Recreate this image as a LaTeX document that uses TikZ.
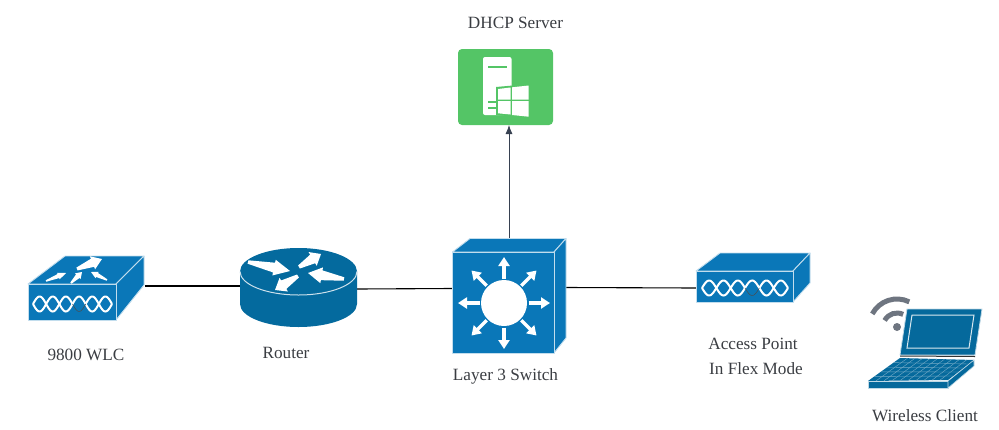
\documentclass[tikz,border=0pt]{standalone}
\usepackage{fontspec}
\setmainfont{Liberation Serif}
\usetikzlibrary{arrows.meta,calc}

\definecolor{devblue}{HTML}{0A77B8}
\definecolor{routerblue}{HTML}{046A9E}
\definecolor{laptopblue}{HTML}{05699C}
\definecolor{dhcpgreen}{HTML}{54C566}
\definecolor{wifigray}{HTML}{6E7580}
\definecolor{labelgray}{HTML}{3A3D42}
\definecolor{arrowgray}{HTML}{374151}

\tikzset{
  iconbox/.style={inner sep=0pt, outer sep=0pt},
  face/.style={fill=devblue, draw=white!75!devblue, line width=.9pt, line join=round},
  label/.style={text=labelgray, font=\fontsize{17.2}{20}\selectfont, inner sep=0pt},
  link/.style={black, line width=1.1pt},
  spoke/.style={white, line width=3.5pt, -{Triangle[width=11pt,length=9pt]}},
  glass/.style={white, line width=2pt}
}

% twisted pair on the front of a box: left end, height, length
\newcommand{\twist}[3]{
  \draw[glass, domain=0:1, samples=90, smooth] plot ({#1+#3*\x},{#2+7.5*sin(1080*\x)});
  \draw[glass, domain=0:.5, samples=45, smooth] plot ({#1+#3*\x},{#2-7.5*sin(1080*\x)});
  \draw[glass, domain=.667:1, samples=30, smooth] plot ({#1+#3*\x},{#2-7.5*sin(1080*\x)});
  \draw[black!70, line width=.5pt, domain=.5:.667, samples=20, smooth] plot ({#1+#3*\x},{#2-7.5*sin(1080*\x)});
}

% white arrow that widens towards its head: tail, tip, half width of the head
\newcommand{\tapered}[3]{
  \coordinate (tailpt) at #1;
  \coordinate (tippt) at #2;
  \coordinate (neckpt) at ($(tailpt)!.62!(tippt)$);
  \fill[white] ($(tailpt)!#3*.22!90:(tippt)$)
    -- ($(neckpt)!#3*.62!90:(tippt)$) -- ($(neckpt)!#3!90:(tippt)$)
    -- (tippt)
    -- ($(neckpt)!#3!-90:(tippt)$) -- ($(neckpt)!#3*.62!-90:(tippt)$)
    -- ($(tailpt)!#3*.22!-90:(tippt)$) -- cycle;
}

\begin{document}
\begin{tikzpicture}[x=1pt, y=-1pt, >={Latex[width=7pt,length=9pt]}]
\useasboundingbox (0,0) rectangle (999,429);

% the boxes that the links attach to
\node(wlc)[iconbox, minimum width=117pt, minimum height=64pt] at (86.5,288) {};
\node(router)[iconbox, minimum width=117pt, minimum height=79pt] at (298.5,287.5) {};
\node(switch)[iconbox, minimum width=114pt, minimum height=115pt] at (509,295.5) {};
\node(ap)[iconbox, minimum width=114pt, minimum height=49pt] at (753,277.5) {};
\node(dhcp)[iconbox, fill=dhcpgreen, rounded corners=4pt, minimum width=95pt, minimum height=76pt] at (505.5,87) {};

% links
\draw[link] ([yshift=2pt]wlc.east) -- ([yshift=1.5pt]router.west);
\draw[link] ([yshift=-1.5pt]router.east) -- ([yshift=7pt]switch.west);
\draw[link] ([yshift=8pt]switch.east) -- ([yshift=-10.5pt]ap.west);
\draw[arrowgray, line width=.8pt, ->] (switch.north) -- (dhcp.south -| switch.north);

% 9800 controller
\fill[face] (28,284) -- (65,256) -- (144,256) -- (116,284) -- cycle;
\fill[face] (116,284) -- (144,256) -- (144,285) -- (116,320) -- cycle;
\fill[face] (28,284) rectangle (116,320);
\twist{33}{304}{79}
\tapered{(77,269)}{(102,259)}{7pt}
\tapered{(46,281)}{(66,273)}{3.5pt}
\tapered{(71,283)}{(82,272)}{4pt}
\tapered{(107,280)}{(91,272)}{3.5pt}

% router
\fill[routerblue] (240,271.5) -- (240,304) arc[start angle=180, end angle=0, x radius=58.5, y radius=23] -- (357,271.5) -- cycle;
\fill[routerblue] (298.5,271.5) ellipse[x radius=58.5, y radius=23.5];
\draw[white!80!routerblue, line width=1pt] (240,271.5) arc[start angle=180, end angle=0, x radius=58.5, y radius=23.5];
\tapered{(248,262)}{(290,271)}{8pt}
\tapered{(299,267)}{(321,254)}{8pt}
\tapered{(344,279)}{(308,273)}{8pt}
\tapered{(298,276)}{(275,290)}{8pt}

% layer 3 switch
\fill[face] (452.5,252) -- (470,238.5) -- (566,238.5) -- (554,252) -- cycle;
\fill[face] (554,252) -- (566,238.5) -- (566,338) -- (554,353) -- cycle;
\fill[face] (452.5,252) rectangle (554,353);
\fill[white] (504,303) circle (23);
\foreach \ang in {0,45,...,315}
  \draw[spoke, shift={(504,303)}] (\ang:24.5) -- (\ang:46);

% access point
\fill[face] (696,271) -- (720,253) -- (810,253) -- (793,271) -- cycle;
\fill[face] (793,271) -- (810,253) -- (810,283) -- (793,302) -- cycle;
\fill[face] (696,271) rectangle (793,302);
\twist{702}{288}{86}

% dhcp server with the window logo
\fill[white, rounded corners=2pt] (483,115) -- (483,57) -- (511.5,57) -- (511.5,115) -- cycle;
\fill[dhcpgreen] (488,65.5) rectangle (507,68);
\fill[dhcpgreen] (488,100.5) rectangle (497,102.5);
\fill[dhcpgreen] (488,106.5) rectangle (497,108.5);
\fill[dhcpgreen] (496,87) -- (530,84) -- (530,118) -- (496,115) -- cycle;
\fill[white] (498,89) -- (510.5,87.5) -- (510.5,99.5) -- (498,99.5) -- cycle;
\fill[white] (512,87.3) -- (528.7,85.5) -- (528.7,99.5) -- (512,99.5) -- cycle;
\fill[white] (498,101) -- (510.5,101) -- (510.5,114.5) -- (498,113.3) -- cycle;
\fill[white] (512,101) -- (528.7,101) -- (528.7,116.7) -- (512,115) -- cycle;

% laptop
\fill[laptopblue, draw=white!75!laptopblue, line width=.8pt] (907,309) -- (982,309) -- (975,355) -- (900,355) -- cycle;
\draw[white!85!laptopblue, line width=1pt] (912,315) -- (974,315) -- (969,348) -- (907,348) -- cycle;
\draw[black!80, line width=1pt] (900,356) -- (975,356.5);
\coordinate (kbA) at (900,358);
\coordinate (kbB) at (974,360);
\coordinate (kbC) at (948,380);
\coordinate (kbD) at (868,381);
\fill[laptopblue] (kbA) -- (kbB) -- (kbC) -- (kbD) -- cycle;
\fill[laptopblue, draw=white!75!laptopblue, line width=.6pt] (868,381) rectangle (948,388);
\fill[laptopblue, draw=white!75!laptopblue, line width=.6pt] (974,360) -- (974,366) -- (948,388) -- (948,381) -- cycle;
\foreach \t in {.2,.4,.6,.8}
  \draw[white!45!laptopblue, line width=.4pt] ($(kbA)!\t!(kbD)$) -- ($(kbB)!\t!(kbC)$);
\foreach \t in {.1,.2,...,.9}
  \draw[white!45!laptopblue, line width=.4pt] ($(kbA)!\t!(kbB)$) -- ($(kbD)!\t!(kbC)$);

% wifi waves over the laptop
\fill[wifigray] (897,327) circle (4);
\draw[wifigray, line width=5pt] (897,327) ++(-152:14) arc[start angle=-152, end angle=-64, radius=14];
\draw[wifigray, line width=5pt] (897,327) ++(-152:28) arc[start angle=-152, end angle=-64, radius=28];

% texts
\node(dhcplabel)[label] at (515.5,23) {DHCP Server};
\node(wlclabel)[label] at (86,355) {9800 WLC};
\node(routerlabel)[label] at (286,353) {Router};
\node(switchlabel)[label] at (505.5,376) {Layer 3 Switch};
\node(aplabel)[label] at (753,344) {Access Point};
\node(flexlabel)[label] at (756,369) {In Flex Mode};
\node(clientlabel)[label] at (925,416) {Wireless Client};
\end{tikzpicture}
\end{document}
